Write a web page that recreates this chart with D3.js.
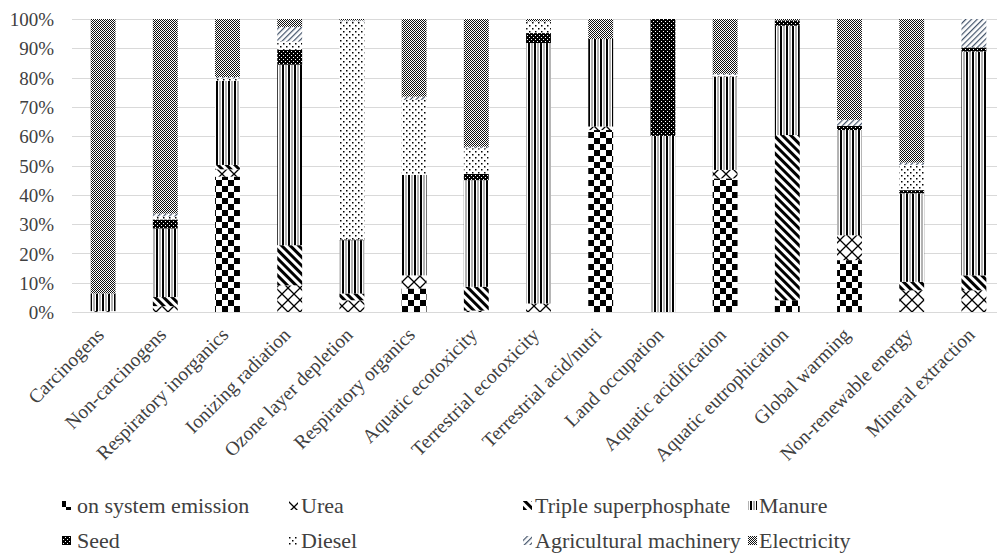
<!DOCTYPE html>
<html>
<head>
<meta charset="utf-8">
<script src="https://cdn.jsdelivr.net/npm/d3@7"></script>
<style>
  body { margin: 0; background: #fff; }
  text { font-family: "Liberation Serif", "Times New Roman", serif; fill: #404040; }
</style>
</head>
<body>
<div id="chart"></div>
<script>
// Impact categories (x axis)
const categories = [
    'Carcinogens', 'Non-carcinogens', 'Respiratory inorganics', 'Ionizing radiation',
    'Ozone layer depletion', 'Respiratory organics', 'Aquatic ecotoxicity',
    'Terrestrial ecotoxicity', 'Terrestrial acid/nutri', 'Land occupation',
    'Aquatic acidification', 'Aquatic eutrophication', 'Global warming',
    'Non-renewable energy', 'Mineral extraction'
];

// Contribution sources, stacked bottom to top
const seriesNames = [
    'on system emission', 'Urea', 'Triple superphosphate', 'Manure',
    'Seed', 'Diesel', 'Agricultural machinery', 'Electricity'
];

// Share (%) of each source per category
const onSystemEmission = [0, 0, 46.2, 0, 0, 8.0, 0, 0, 62.1, 0, 45.6, 4.0, 17.7, 0, 0];
const urea             = [0.3, 2.0, 2.5, 9.1, 4.0, 4.5, 0.5, 2.9, 1.2, 0, 2.9, 0, 8.5, 7.4, 7.4];
const tripleSuper      = [0, 3.1, 1.5, 13.7, 2.3, 0, 8.1, 0, 0, 0, 0, 56.4, 0, 2.9, 5.1];
const manure           = [6.0, 23.4, 28.7, 61.6, 18.2, 34.3, 36.4, 88.9, 29.9, 60.1, 31.9, 37.3, 35.9, 30.2, 76.4];
const seed             = [0, 3.1, 0, 5.1, 0.3, 0, 2.1, 3.4, 0, 39.9, 0, 1.8, 1.4, 1.1, 1.4];
const diesel           = [0, 1.0, 0.8, 2.9, 74.4, 25.6, 8.8, 4.0, 0, 0, 0.5, 0, 0, 8.6, 0];
const agriMachinery    = [0, 1.0, 0.5, 4.9, 0.3, 1.1, 0.5, 0, 0, 0, 0.4, 0, 2.1, 0.8, 9.7];
const electricity      = [93.7, 66.4, 19.8, 2.7, 0.5, 26.5, 43.6, 0.8, 6.8, 0, 18.7, 0.5, 34.4, 49.0, 0];

const yTicks = [0, 0.1, 0.2, 0.3, 0.4, 0.5, 0.6, 0.7, 0.8, 0.9, 1];

const seriesValues = [onSystemEmission, urea, tripleSuper, manure, seed, diesel, agriMachinery, electricity];
const patternIds = ['p-emission', 'p-urea', 'p-tsp', 'p-manure', 'p-seed', 'p-diesel', 'p-agri', 'p-elec'];

const width = 997, height = 557;
const margin = { top: 19, right: -8, bottom: 245, left: 72 };
const fontFamily = '"Liberation Serif", "Times New Roman", serif';

const svg = d3.select('#chart').append('svg')
    .attr('width', width)
    .attr('height', height);

// ---- fill patterns ----
const defs = svg.append('defs');
function pattern(id, w, h, transform) {
    const p = defs.append('pattern')
        .attr('id', id)
        .attr('patternUnits', 'userSpaceOnUse')
        .attr('width', w)
        .attr('height', h);
    if (transform) p.attr('patternTransform', transform);
    return p;
}

// checkerboard
let p = pattern('p-emission', 12, 12);
p.append('rect').attr('width', 12).attr('height', 12).attr('fill', '#fff');
p.append('rect').attr('width', 6).attr('height', 6).attr('fill', '#000');
p.append('rect').attr('x', 6).attr('y', 6).attr('width', 6).attr('height', 6).attr('fill', '#000');

// diamond crosshatch
p = pattern('p-urea', 12, 12);
p.append('rect').attr('width', 12).attr('height', 12).attr('fill', '#fff');
p.append('path').attr('d', 'M0,0L12,12M12,0L0,12').attr('stroke', '#000').attr('stroke-width', 1.3);

// wide downward diagonal
p = pattern('p-tsp', 6, 6, 'rotate(-45)');
p.append('rect').attr('width', 6).attr('height', 6).attr('fill', '#fff');
p.append('rect').attr('width', 3).attr('height', 6).attr('fill', '#000');

// vertical lines
p = pattern('p-manure', 6, 6);
p.append('rect').attr('width', 6).attr('height', 6).attr('fill', '#fff');
p.append('rect').attr('x', 0).attr('width', 2).attr('height', 6).attr('fill', '#000');
p.append('rect').attr('x', 3.5).attr('width', 1).attr('height', 6).attr('fill', '#666');

// dark with white dots
p = pattern('p-seed', 4, 4);
p.append('rect').attr('width', 4).attr('height', 4).attr('fill', '#000');
p.append('rect').attr('x', 1).attr('y', 1).attr('width', 1).attr('height', 1).attr('fill', '#fff');
p.append('rect').attr('x', 3).attr('y', 3).attr('width', 1).attr('height', 1).attr('fill', '#fff');

// sparse dots
p = pattern('p-diesel', 6, 6);
p.append('rect').attr('width', 6).attr('height', 6).attr('fill', '#fff');
p.append('rect').attr('x', 1).attr('y', 1).attr('width', 1.5).attr('height', 1.5).attr('fill', '#000');
p.append('rect').attr('x', 4).attr('y', 4).attr('width', 1.5).attr('height', 1.5).attr('fill', '#000');

// blue upward diagonal hatch
p = pattern('p-agri', 4, 4, 'rotate(45)');
p.append('rect').attr('width', 4).attr('height', 4).attr('fill', '#fff');
p.append('rect').attr('width', 1.2).attr('height', 4).attr('fill', '#44546a');

// fine grey mesh
p = pattern('p-elec', 2, 2);
p.append('rect').attr('width', 2).attr('height', 2).attr('fill', '#fff');
p.append('rect').attr('width', 1).attr('height', 1).attr('fill', '#111');
p.append('rect').attr('x', 1).attr('y', 1).attr('width', 1).attr('height', 1).attr('fill', '#111');

// ---- scales ----
const x = d3.scaleBand()
    .domain(categories)
    .range([margin.left, width - margin.right])
    .paddingInner(0.6)
    .paddingOuter(0.3);

const y = d3.scaleLinear()
    .domain([0, 1])
    .range([height - margin.bottom, margin.top]);

// ---- gridlines ----
svg.append('g')
    .selectAll('line')
    .data(yTicks)
    .join('line')
    .attr('x1', margin.left)
    .attr('x2', width - margin.right)
    .attr('y1', d => Math.round(y(d)) + 0.5)
    .attr('y2', d => Math.round(y(d)) + 0.5)
    .attr('stroke', '#d9d9d9')
    .attr('stroke-width', 1);

// ---- stacked bars ----
const table = categories.map((c, i) => {
    const row = { category: c };
    seriesNames.forEach((s, j) => { row[s] = seriesValues[j][i]; });
    return row;
});

const stacked = d3.stack()
    .keys(seriesNames)
    .offset(d3.stackOffsetExpand)(table);

svg.append('g')
    .selectAll('g')
    .data(stacked)
    .join('g')
    .attr('fill', (d, i) => `url(#${patternIds[i]})`)
    .selectAll('rect')
    .data(d => d)
    .join('rect')
    .attr('x', d => x(d.data.category))
    .attr('y', d => y(d[1]))
    .attr('width', x.bandwidth())
    .attr('height', d => Math.max(0, y(d[0]) - y(d[1])));

// ---- axes ----
const yAxis = svg.append('g')
    .attr('transform', `translate(${margin.left},0)`)
    .attr('font-family', fontFamily)
    .call(d3.axisLeft(y).tickValues(yTicks).tickFormat(d3.format('.0%')).tickSize(0).tickPadding(18));
yAxis.select('.domain').remove();
yAxis.selectAll('text')
    .style('font-size', '19px')
    .attr('dy', '0.35em');

const xAxis = svg.append('g')
    .attr('transform', `translate(0,${height - margin.bottom})`)
    .attr('font-family', fontFamily)
    .call(d3.axisBottom(x).tickSize(0).tickPadding(0));
xAxis.select('.domain').remove();
xAxis.selectAll('text')
    .style('font-size', '19.5px')
    .style('text-anchor', 'end')
    .attr('dy', 0)
    .attr('y', 0)
    .attr('transform', 'translate(2,24) rotate(-45)');

// ---- legend ----
const legendCols = [[62, 77], [289, 301], [523, 535], [748, 759]];
const legendBaselines = [513, 548];
const legend = svg.append('g')
    .attr('font-family', fontFamily)
    .selectAll('g')
    .data(seriesNames)
    .join('g')
    .attr('transform', (d, i) => `translate(0,${legendBaselines[Math.floor(i / 4)]})`);

legend.append('rect')
    .attr('x', (d, i) => legendCols[i % 4][0])
    .attr('y', -12)
    .attr('width', 9)
    .attr('height', 9)
    .attr('fill', (d, i) => `url(#${patternIds[i]})`);

legend.append('text')
    .attr('x', (d, i) => legendCols[i % 4][1])
    .attr('y', 0)
    .style('font-size', '22px')
    .text(d => d);
</script>
</body>
</html>
